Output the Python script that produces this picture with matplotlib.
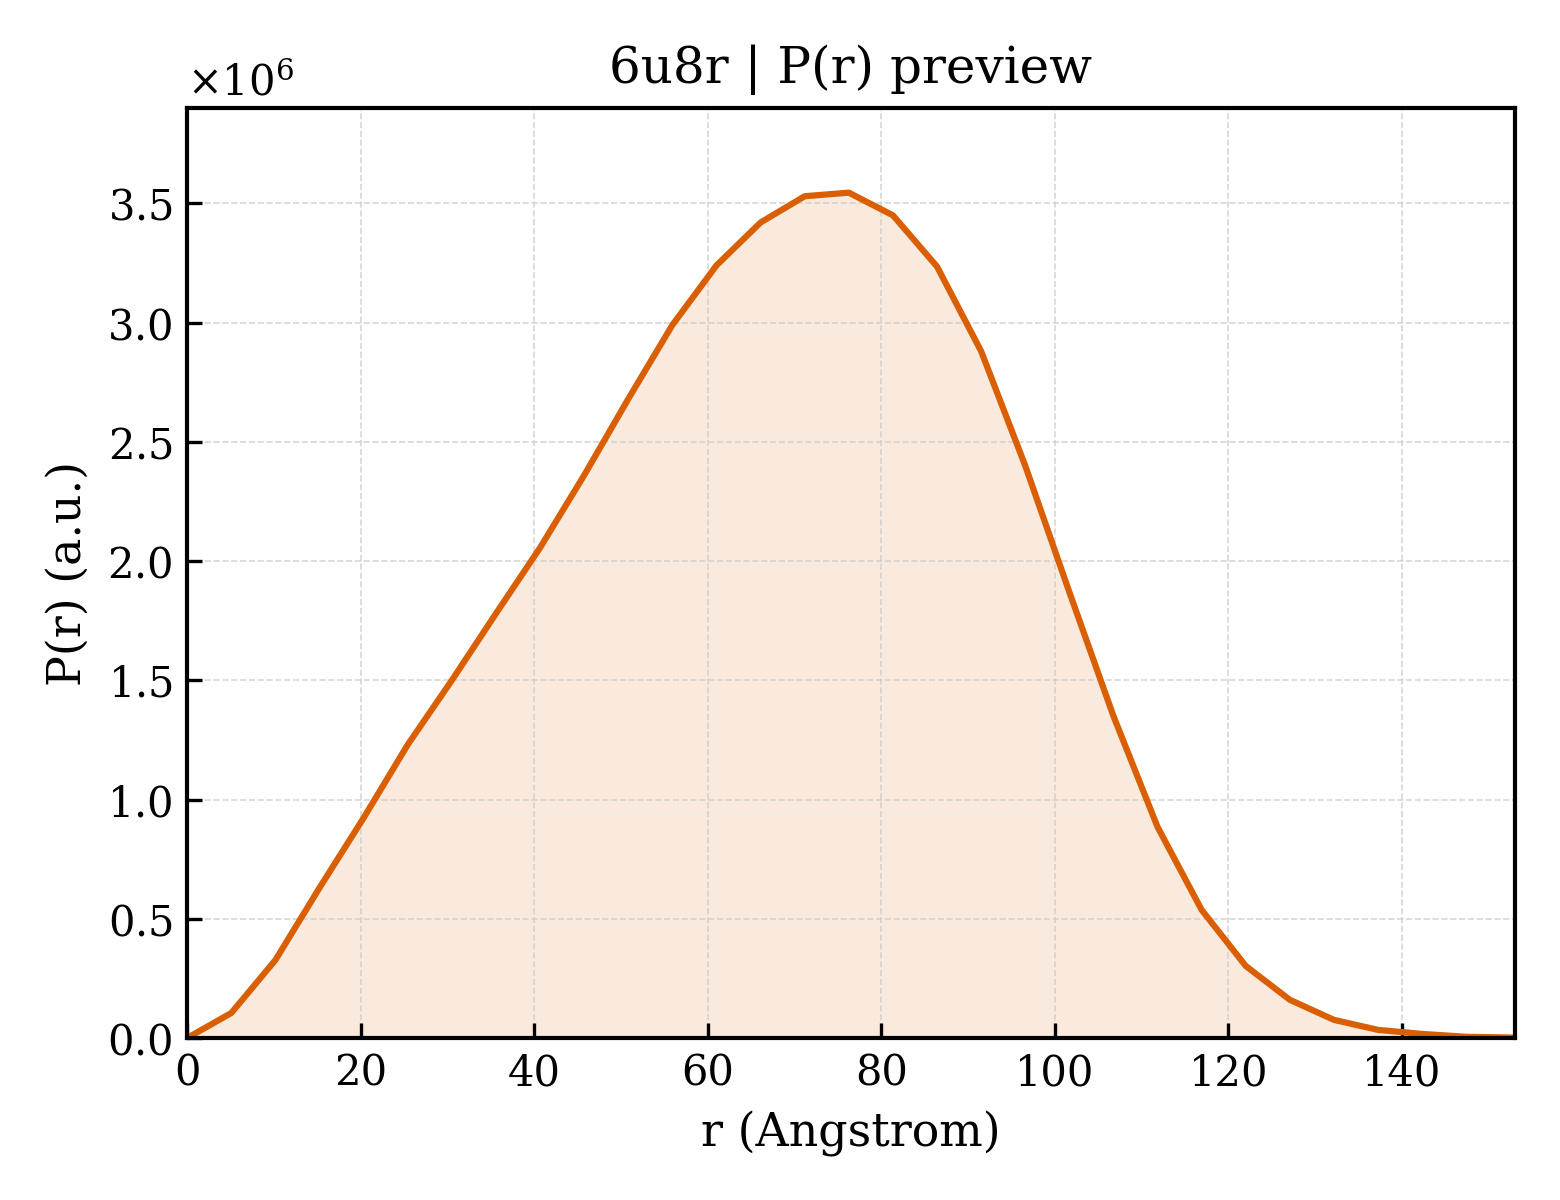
import numpy as np
import matplotlib
matplotlib.use("Agg")
import matplotlib.pyplot as plt

# P(r) curve
r = np.linspace(0, 152.5, 31)
pr = np.array([0.0, 0.105, 0.327, 0.63, 0.923, 1.23, 1.50, 1.78, 2.056, 2.36,
               2.68, 2.99, 3.24, 3.42, 3.53, 3.545, 3.45, 3.235, 2.88, 2.40,
               1.87, 1.35, 0.885, 0.537, 0.302, 0.16, 0.076, 0.034, 0.017,
               0.005, 0.002]) * 1e6

line_color = "#d95f02"

plt.rcParams["font.family"] = "DejaVu Serif"
plt.rcParams["mathtext.fontset"] = "dejavuserif"

fig, ax = plt.subplots(figsize=(5.2, 4), dpi=300)
ax.plot(r, pr, color=line_color, lw=1.5)
ax.fill_between(r, pr, 0, color=line_color, alpha=0.13, lw=0)

ax.set_xlim(0, 153)
ax.set_ylim(0, 3.9e6)
ax.ticklabel_format(axis="y", style="sci", scilimits=(0, 0), useMathText=True)
ax.tick_params(direction="in", labelsize=10)
ax.grid(True, ls="--", lw=0.4, color="#cccccc", alpha=0.8)
for s in ax.spines.values():
    s.set_linewidth(1.0)

ax.set_xlabel("r (Angstrom)", fontsize=11)
ax.set_ylabel("P(r) (a.u.)", fontsize=11)
ax.set_title("6u8r | P(r) preview", fontsize=12)
ax.yaxis.get_offset_text().set_fontsize(10)

fig.subplots_adjust(left=0.12, right=0.971, bottom=0.135, top=0.91)
fig.savefig("out.png", dpi=300)
